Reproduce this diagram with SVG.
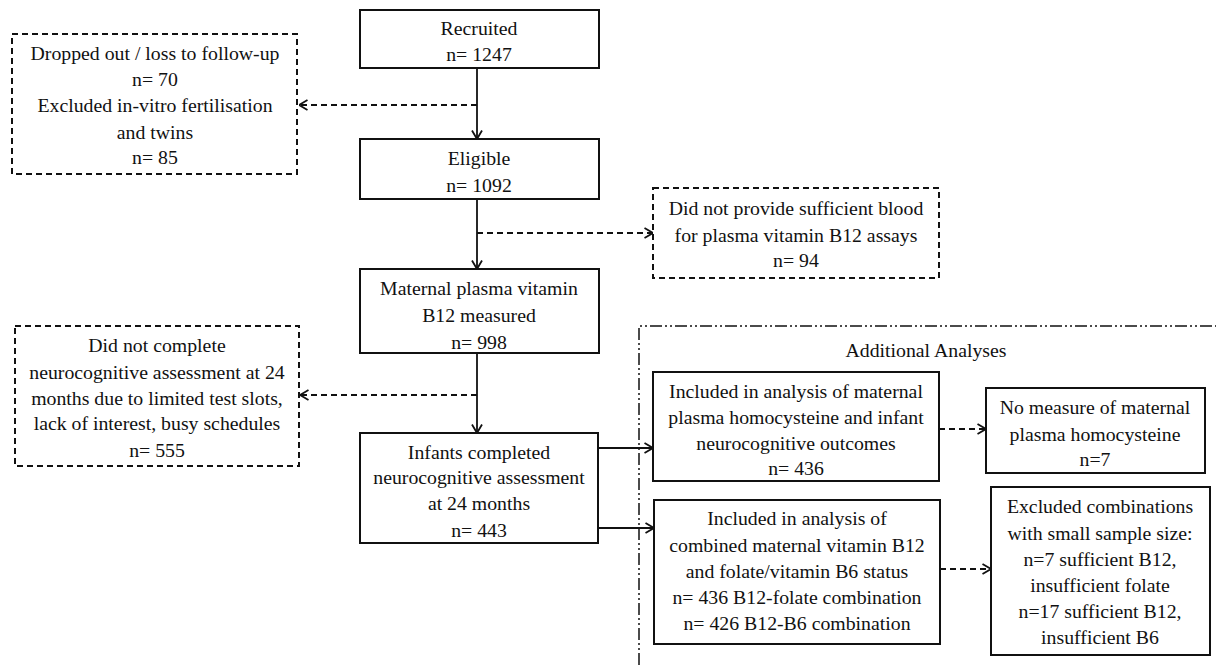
<svg xmlns="http://www.w3.org/2000/svg" width="1216" height="665" viewBox="0 0 1216 665">
<style>
  text { font-family: "Liberation Serif", "Times New Roman", serif; font-size: 19.8px; fill: #111; text-anchor: middle; }
  .solid { fill: #fff; stroke: #111; stroke-width: 2; }
  .dash { fill: #fff; stroke: #111; stroke-width: 2; stroke-dasharray: 6 4; }
  .line { fill: none; stroke: #111; stroke-width: 1.8; }
  .dline { fill: none; stroke: #111; stroke-width: 1.8; stroke-dasharray: 6 4; }
  .dashdot { fill: none; stroke: #111; stroke-width: 1.5; stroke-dasharray: 12 3 2 3 2 3; }
</style>
<defs>
  <marker id="arr" viewBox="0 0 10 12" refX="9.5" refY="6" markerWidth="10" markerHeight="12" markerUnits="userSpaceOnUse" orient="auto">
    <path d="M1,1 L9.5,6 L1,11" fill="none" stroke="#111" stroke-width="1.8"/>
  </marker>
</defs>
<rect width="1216" height="665" fill="#fff"/>

<g id="additional-frame">
  <path class="dashdot" d="M639,665 L639,326 L1216,326"/>
  <text x="926" y="357">Additional Analyses</text>
</g>

<g id="connectors">
  <path class="line" d="M477,68 L477,139" marker-end="url(#arr)"/>
  <path class="dline" d="M477,105 L299,105" marker-end="url(#arr)"/>
  <path class="line" d="M477,199 L477,269" marker-end="url(#arr)"/>
  <path class="dline" d="M477,233 L653,233" marker-end="url(#arr)"/>
  <path class="line" d="M477,353 L477,433" marker-end="url(#arr)"/>
  <path class="dline" d="M477,395 L300,395" marker-end="url(#arr)"/>
  <path class="line" d="M598,448 L653,448" marker-end="url(#arr)"/>
  <path class="line" d="M598,528 L654,528" marker-end="url(#arr)"/>
  <path class="dline" d="M939,429 L986,429" marker-end="url(#arr)"/>
  <path class="dline" d="M940,569 L991,569" marker-end="url(#arr)"/>
</g>

<g id="recruited">
  <rect class="solid" x="360" y="10" width="239" height="58"/>
  <text x="479" y="35">Recruited</text>
  <text x="479" y="61">n= 1247</text>
</g>

<g id="dropped">
  <rect class="dash" x="12" y="34" width="285" height="140"/>
  <text x="155" y="60">Dropped out / loss to follow-up</text>
  <text x="155" y="86">n= 70</text>
  <text x="155" y="112">Excluded in-vitro fertilisation</text>
  <text x="155" y="139">and twins</text>
  <text x="155" y="164">n= 85</text>
</g>

<g id="eligible">
  <rect class="solid" x="360" y="139" width="239" height="60"/>
  <text x="479" y="165">Eligible</text>
  <text x="479" y="192">n= 1092</text>
</g>

<g id="insufficient-blood">
  <rect class="dash" x="653" y="188" width="286" height="90"/>
  <text x="796" y="215">Did not provide sufficient blood</text>
  <text x="796" y="242">for plasma vitamin B12 assays</text>
  <text x="796" y="267">n= 94</text>
</g>

<g id="maternal-b12">
  <rect class="solid" x="360" y="269" width="239" height="84"/>
  <text x="479" y="295">Maternal plasma vitamin</text>
  <text x="479" y="322">B12 measured</text>
  <text x="479" y="349">n= 998</text>
</g>

<g id="not-completed">
  <rect class="dash" x="15" y="326" width="284" height="140"/>
  <text x="157" y="352">Did not complete</text>
  <text x="157" y="379">neurocognitive assessment at 24</text>
  <text x="157" y="405">months due to limited test slots,</text>
  <text x="157" y="430">lack of interest, busy schedules</text>
  <text x="157" y="457">n= 555</text>
</g>

<g id="infants">
  <rect class="solid" x="360" y="433" width="238" height="110"/>
  <text x="479" y="459">Infants completed</text>
  <text x="479" y="484">neurocognitive assessment</text>
  <text x="479" y="510">at 24 months</text>
  <text x="479" y="537">n= 443</text>
</g>

<g id="homocysteine">
  <rect class="solid" x="653" y="372" width="286" height="109"/>
  <text x="796" y="398">Included in analysis of maternal</text>
  <text x="796" y="424">plasma homocysteine and infant</text>
  <text x="796" y="450">neurocognitive outcomes</text>
  <text x="796" y="475">n= 436</text>
</g>

<g id="no-measure">
  <rect class="solid" x="986" y="388" width="219" height="85"/>
  <text x="1095" y="414">No measure of maternal</text>
  <text x="1095" y="441">plasma homocysteine</text>
  <text x="1095" y="466">n=7</text>
</g>

<g id="combined">
  <rect class="solid" x="654" y="500" width="286" height="144"/>
  <text x="797" y="525">Included in analysis of</text>
  <text x="797" y="552">combined maternal vitamin B12</text>
  <text x="797" y="578">and folate/vitamin B6 status</text>
  <text x="797" y="604">n= 436 B12-folate combination</text>
  <text x="797" y="630">n= 426 B12-B6 combination</text>
</g>

<g id="excluded-combinations">
  <rect class="solid" x="991" y="487" width="219" height="168"/>
  <text x="1100" y="513">Excluded combinations</text>
  <text x="1100" y="540">with small sample size:</text>
  <text x="1100" y="566">n=7 sufficient B12,</text>
  <text x="1100" y="592">insufficient folate</text>
  <text x="1100" y="618">n=17 sufficient B12,</text>
  <text x="1100" y="644">insufficient B6</text>
</g>
</svg>
